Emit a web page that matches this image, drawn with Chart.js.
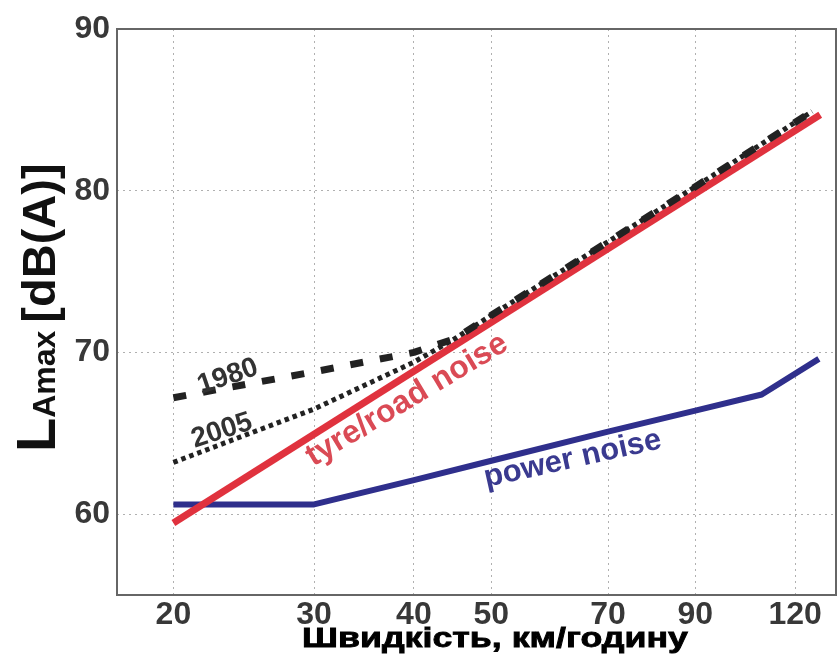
<!DOCTYPE html>
<html>
<head>
<meta charset="utf-8">
<script src="https://cdn.jsdelivr.net/npm/chart.js@4.4.0/dist/chart.umd.min.js"></script>
<style>
  html, body { margin: 0; padding: 0; background: #fff; }
  canvas { display: block; }
</style>
</head>
<body>
<canvas id="chart" width="838" height="661"></canvas>
<script>
// values (x = speed km/h, log scale; y = LAmax dB(A))
const xTicks = [20, 30, 40, 50, 70, 90, 120];
const yTicks = [60, 70, 80, 90];

const tyreSpeeds = [20, 129];
const tyreLevels = [59.45, 84.7];

const powerSpeeds = [20, 30, 40, 50, 70, 90, 109, 128.5];
const powerLevels = [60.6, 60.6, 62.1, 63.3, 65.1, 66.4, 67.4, 69.6];

const speeds1980 = [20, 30, 40, 45, 50, 70, 90, 126];
const levels1980 = [67.2, 68.8, 70.0, 70.85, 72.3, 76.85, 80.25, 84.9];

const speeds2005 = [20, 30, 40, 45, 50, 70, 90, 126];
const levels2005 = [63.2, 66.5, 69.4, 70.85, 72.3, 76.85, 80.25, 84.9];

const FONT = '"Liberation Sans", Arial, sans-serif';

const toPoints = (xs, ys) => xs.map((x, i) => ({ x: x, y: ys[i] }));

// in-plot text labels, anchored in data units
const curveLabels = [
    { text: '1980', x: 23.4, y: 68.5, angle: -19, color: '#333333', font: 'bold 28px ' + FONT },
    { text: '2005', x: 23.0, y: 65.15, angle: -18, color: '#333333', font: 'bold 28px ' + FONT },
    { text: 'tyre/road noise', x: 39.2, y: 67.05, angle: -31, color: '#da4a55', font: 'bold 32px ' + FONT },
    { text: 'power noise', x: 63.2, y: 63.4, angle: -12.5, color: '#3a3a90', font: 'bold 31px ' + FONT },
];

const decorPlugin = {
    id: 'decor',
    afterDatasetsDraw(chart) {
        const ctx = chart.ctx;
        const { x, y } = chart.scales;
        curveLabels.forEach(l => {
            ctx.save();
            ctx.translate(x.getPixelForValue(l.x), y.getPixelForValue(l.y));
            ctx.rotate(l.angle * Math.PI / 180);
            ctx.font = l.font;
            ctx.fillStyle = l.color;
            ctx.textAlign = 'center';
            ctx.textBaseline = 'middle';
            ctx.fillText(l.text, 0, 0);
            ctx.restore();
        });
    },
    afterDraw(chart) {
        const ctx = chart.ctx;
        const a = chart.chartArea;

        // plot frame
        ctx.save();
        ctx.strokeStyle = '#666666';
        ctx.lineWidth = 2;
        ctx.strokeRect(a.left, a.top, a.right - a.left, a.bottom - a.top);
        ctx.restore();

        // y title: L + Amax + [dB(A)], rotated
        ctx.save();
        ctx.translate(55, 452);
        ctx.rotate(-Math.PI / 2);
        ctx.fillStyle = '#111111';
        ctx.textAlign = 'left';
        ctx.textBaseline = 'alphabetic';
        let pos = 0;
        ctx.font = 'bold 56px ' + FONT;
        ctx.fillText('L', pos, 0);
        pos += ctx.measureText('L').width;
        ctx.font = 'bold 32px ' + FONT;
        ctx.fillText('Amax', pos, 0);
        pos += ctx.measureText('Amax').width + 8;
        ctx.font = 'bold 47px ' + FONT;
        ctx.fillText('[dB(A)]', pos, 0);
        ctx.restore();

        // x title, stretched to the width seen in the picture
        ctx.save();
        const xTitle = 'Швидкість, км/годину';
        ctx.font = 'bold 27px ' + FONT;
        const w = ctx.measureText(xTitle).width;
        ctx.translate(495, 647);
        ctx.scale(386 / w, 1);
        ctx.fillStyle = '#000000';
        ctx.strokeStyle = '#000000';
        ctx.lineWidth = 0.8;
        ctx.textAlign = 'center';
        ctx.textBaseline = 'alphabetic';
        ctx.fillText(xTitle, 0, 0);
        ctx.strokeText(xTitle, 0, 0);
        ctx.restore();
    }
};

const gridStyle = {
    color: '#b0b0b0',
    lineWidth: 1,
    drawTicks: false
};

new Chart(document.getElementById('chart'), {
    type: 'line',
    data: {
        datasets: [
            {
                label: '1980',
                data: toPoints(speeds1980, levels1980),
                borderColor: '#222222',
                borderWidth: 7,
                borderDash: [13, 17],
                order: 0
            },
            {
                label: '2005',
                data: toPoints(speeds2005, levels2005),
                borderColor: '#222222',
                borderWidth: 5,
                borderDash: [4.5, 4],
                order: 1
            },
            {
                label: 'tyre/road noise',
                data: toPoints(tyreSpeeds, tyreLevels),
                borderColor: '#e0323e',
                borderWidth: 7,
                order: 2
            },
            {
                label: 'power noise',
                data: toPoints(powerSpeeds, powerLevels),
                borderColor: '#2f2f8c',
                borderWidth: 6,
                order: 3
            }
        ]
    },
    options: {
        responsive: false,
        animation: false,
        devicePixelRatio: 1,
        layout: {
            padding: { top: 29, right: 2, left: 0, bottom: 0 }
        },
        elements: {
            point: { radius: 0 },
            line: { tension: 0, borderCapStyle: 'butt', borderJoinStyle: 'round' }
        },
        plugins: {
            legend: { display: false },
            tooltip: { enabled: false }
        },
        scales: {
            x: {
                type: 'logarithmic',
                min: 17,
                max: 135,
                afterBuildTicks: s => { s.ticks = xTicks.map(v => ({ value: v })); },
                afterFit: s => { s.height = 66; },
                ticks: {
                    autoSkip: false,
                    maxRotation: 0,
                    padding: 1,
                    color: '#383838',
                    font: { family: FONT, size: 32, weight: 'bold' },
                    callback: v => String(v)
                },
                grid: gridStyle,
                border: { display: false, dash: [2, 4] }
            },
            y: {
                min: 55,
                max: 90,
                afterBuildTicks: s => { s.ticks = yTicks.map(v => ({ value: v })); },
                afterFit: s => { s.width = 117; },
                ticks: {
                    padding: 7,
                    color: '#383838',
                    font: { family: FONT, size: 32, weight: 'bold' },
                    callback: v => String(v)
                },
                grid: gridStyle,
                border: { display: false, dash: [2, 4] }
            }
        }
    },
    plugins: [decorPlugin]
});
</script>
</body>
</html>
